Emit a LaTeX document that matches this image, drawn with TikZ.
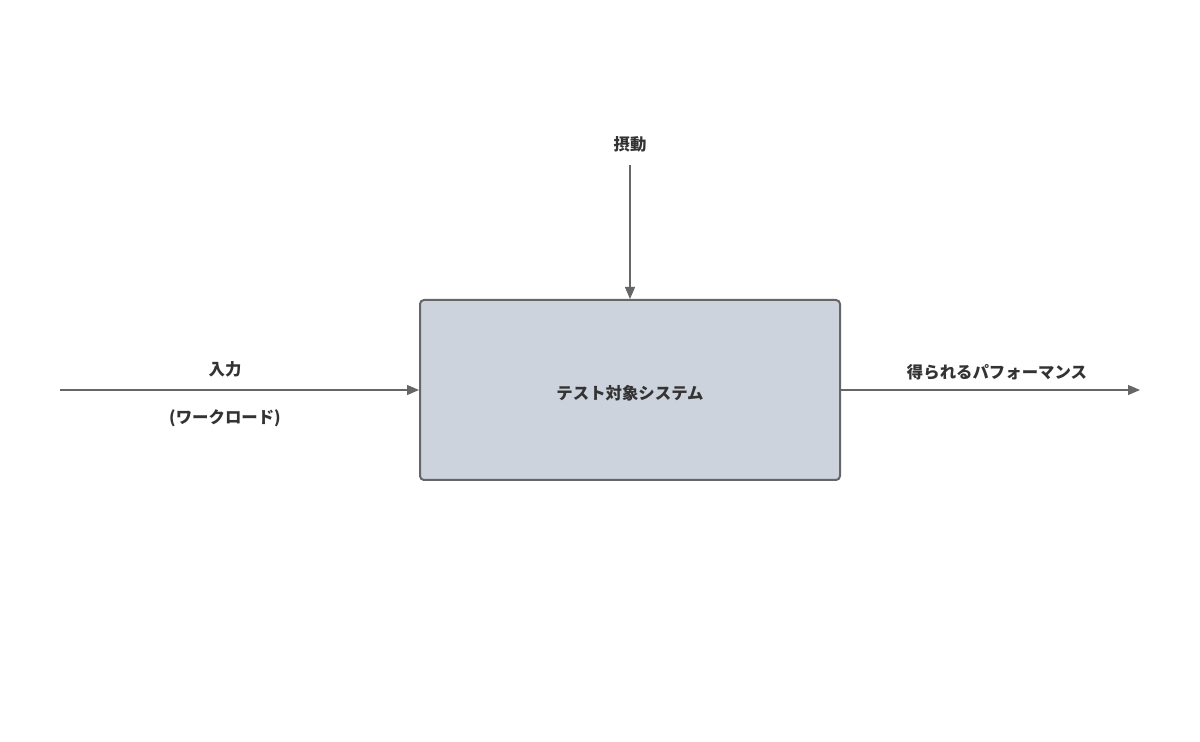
\documentclass[tikz,border=0pt]{standalone}
\usepackage{fontspec}
\setmainfont{Noto Sans CJK JP}
\usetikzlibrary{arrows.meta,positioning}
\definecolor{boxfill}{HTML}{CDD3DC}
\definecolor{linegray}{HTML}{666666}
\definecolor{textgray}{HTML}{333333}
\begin{document}
\begin{tikzpicture}[
    x=0.5pt, y=-0.5pt,
    sysbox/.style={rectangle, draw=linegray, line width=1pt, fill=boxfill, rounded corners=2pt,
                   minimum width=210pt, minimum height=90pt, inner sep=0pt},
    label/.style={text=textgray, font=\fontsize{8.2}{10}\selectfont\bfseries, inner sep=0pt},
    flow/.style={draw=linegray, line width=0.6pt, -{Triangle[length=6pt,width=5pt]}}
]
    % canvas
    \useasboundingbox (0,0) rectangle (1200,742);

    % system under test
    \node[sysbox] (sut) at (630,390) {};
    \node[label] (sutname) at (630,393) {テスト対象システム};

    % free ends of the arrows
    \coordinate (inStart) at (60,390);
    \coordinate (outEnd) at (1140,390);
    \coordinate (pertStart) at (630,165);

    % labels
    \node[label] (pert) at (630,144) {摂動};
    \node[label] (input) at (225,369) {入力};
    \node[label] (workload) at (225,418) {(ワークロード)};
    \node[label] (perf) at (997,372) {得られるパフォーマンス};

    % connectors
    \draw[flow] (pertStart) -- (sut.north);
    \draw[flow] (inStart) -- (sut.west);
    \draw[flow] (sut.east) -- (outEnd);
\end{tikzpicture}
\end{document}
